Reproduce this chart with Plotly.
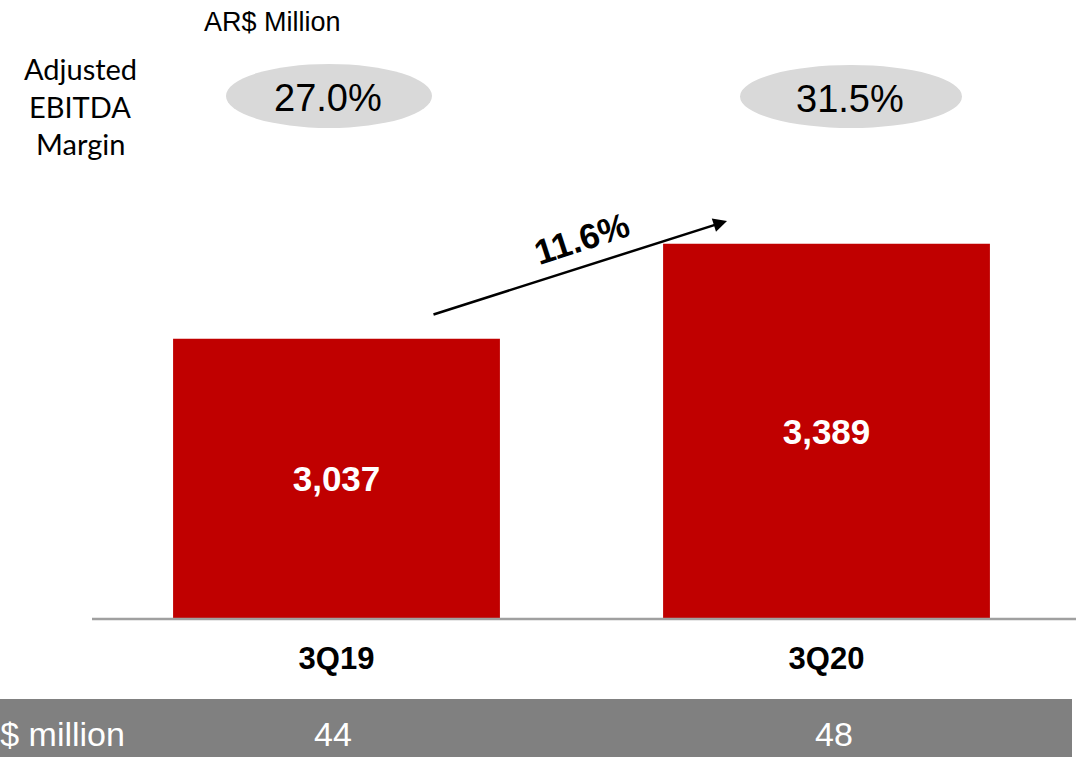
import plotly.graph_objects as go

# ---- data ----
categories = ["3Q19", "3Q20"]
ebitda = [3037, 3389]                 # AR$ million
margins = ["27.0%", "31.5%"]          # Adjusted EBITDA margin
growth_label = "11.6%"
usd_values = [44, 48]                 # US$ million
usd_label = "US$ million"
unit_label = "AR$ Million"
margin_label_lines = ["Adjusted", "EBITDA", "Margin"]

# ---- layout helpers (pixel -> paper) ----
W, H = 1081, 757
def px(x):
    return x / W
def py(y):
    return 1 - y / H

AXIS_BASE = 2000  # truncated value axis start
RED = "#c00000"
FONT = "Arial, Liberation Sans, sans-serif"

fig = go.Figure()
fig.add_trace(go.Bar(
    x=categories,
    y=[v - AXIS_BASE for v in ebitda],
    base=AXIS_BASE,
    width=0.667,
    marker=dict(color=RED, line=dict(width=0)),
    text=[f"{v:,}" for v in ebitda],
    textposition="inside",
    insidetextanchor="middle",
    textfont=dict(family=FONT, size=35, color="white", weight="bold"),
    hovertemplate="%{x}: %{text}<extra></extra>",
))

shapes = []
# gray bottom band
shapes.append(dict(type="rect", xref="paper", yref="paper",
                   x0=0, x1=px(1072), y0=py(757), y1=py(699),
                   fillcolor="#808080", line=dict(width=0), layer="below"))
# baseline
shapes.append(dict(type="line", xref="paper", yref="paper",
                   x0=px(92), x1=px(1076), y0=py(619), y1=py(619),
                   line=dict(color="#a0a0a0", width=2.5)))
# margin ellipses
for (x0, x1, y0, y1) in [(226, 432, 64, 128), (740, 962, 65, 128)]:
    shapes.append(dict(type="circle", xref="paper", yref="paper",
                       x0=px(x0), x1=px(x1), y0=py(y1), y1=py(y0),
                       fillcolor="#d9d9d9", line=dict(width=0), layer="below"))

annotations = []
annotations.append(dict(text=unit_label, x=px(272), y=py(22), xref="paper", yref="paper",
                        showarrow=False, font=dict(family=FONT, size=27, color="black"),
                        xanchor="center", yanchor="middle"))
for line, yy in zip(margin_label_lines, [69, 106, 143]):
    annotations.append(dict(text=line, x=px(80), y=py(yy), xref="paper", yref="paper",
                            showarrow=False, font=dict(family="Lato, Carlito, sans-serif", size=29, color="black"),
                            xanchor="center", yanchor="middle"))
for m, (cx, cy) in zip(margins, [(328, 98.5), (850, 99.5)]):
    annotations.append(dict(text=m, x=px(cx), y=py(cy), xref="paper", yref="paper",
                            showarrow=False, font=dict(family=FONT, size=38, color="black"),
                            xanchor="center", yanchor="middle"))
# growth arrow
annotations.append(dict(text="", x=px(727), y=py(221), xref="paper", yref="paper",
                        showarrow=True, ax=432 - 727, ay=315 - 221,
                        arrowhead=2, arrowsize=1.1, arrowwidth=2.5, arrowcolor="black"))
annotations.append(dict(text=growth_label, x=px(581), y=py(238), xref="paper", yref="paper",
                        showarrow=False, textangle=-18,
                        font=dict(family=FONT, size=35, color="black", weight="bold"),
                        xanchor="center", yanchor="middle"))
# bottom band labels
annotations.append(dict(text=usd_label, x=px(127), y=py(734), xref="paper", yref="paper",
                        showarrow=False, font=dict(family=FONT, size=34, color="white"),
                        xanchor="right", yanchor="middle"))
for c, v, xs in zip(categories, usd_values, [-4, 7]):
    annotations.append(dict(text=str(v), x=c, y=py(734), xref="x", yref="paper",
                            xshift=xs,
                            showarrow=False, font=dict(family=FONT, size=34, color="white"),
                            xanchor="center", yanchor="middle"))

fig.update_layout(
    width=W, height=H,
    margin=dict(l=0, r=0, t=0, b=0),
    paper_bgcolor="white", plot_bgcolor="white",
    showlegend=False,
    shapes=shapes,
    annotations=annotations,
    xaxis=dict(domain=[0, 1], type="category", categoryorder="array", categoryarray=categories,
               range=[-336.5 / 490, (W - 336.5) / 490],
               showline=False, showgrid=False, zeroline=False, ticks="",
               tickfont=dict(family=FONT, size=31, color="black", weight="bold"),
               ticklabelstandoff=18),
    yaxis=dict(domain=[1 - 618.5 / H, 1], range=[AXIS_BASE, 3389 + 243.7 / 0.2699],
               visible=False, showgrid=False, zeroline=False),
)

fig.write_html(
    "out.html",
    config={"displayModeBar": False},
    post_script="document.body.style.margin='0';document.body.style.overflow='hidden';",
)
